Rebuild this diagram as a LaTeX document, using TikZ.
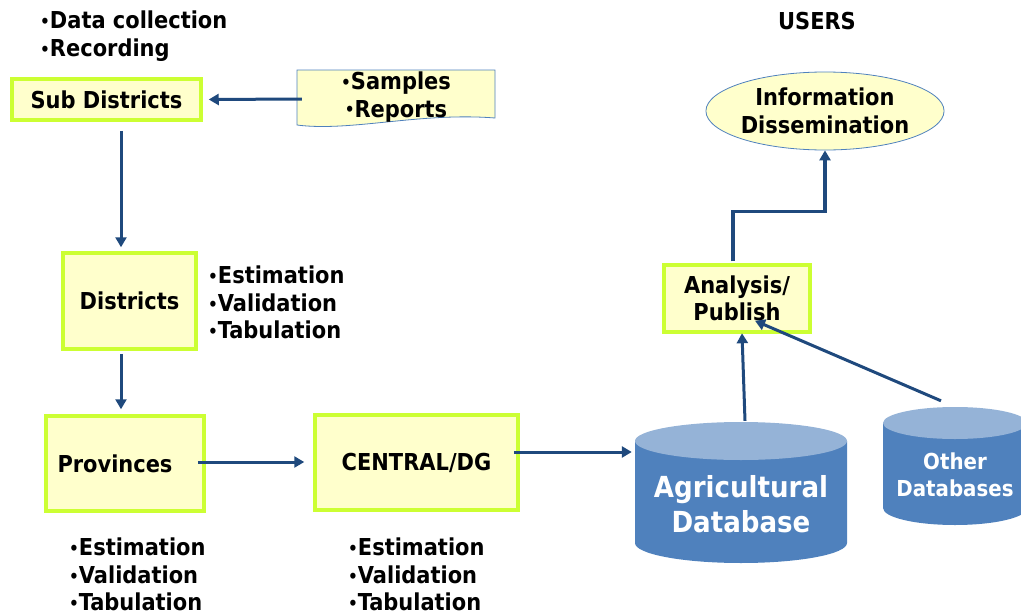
\documentclass[tikz,border=0pt]{standalone}
\usepackage{fontspec}
\setmainfont{DejaVu Sans Condensed}
\usetikzlibrary{arrows.meta,calc,shapes.geometric}
\definecolor{boxfill}{RGB}{255,255,204}
\definecolor{boxline}{RGB}{204,255,51}
\definecolor{arrowc}{RGB}{31,73,125}
\definecolor{dbbody}{RGB}{79,129,189}
\definecolor{dbtop}{RGB}{149,179,215}
\definecolor{thinblue}{RGB}{79,129,189}
\newcommand\bul{{\fontsize{17}{17}\selectfont\raisebox{1.2pt}{•}}}
\begin{document}
\begin{tikzpicture}[x=1pt,y=-1pt,
  every node/.style={font=\bfseries\fontsize{23.3}{27.5}\selectfont, inner sep=0pt},
  greenbox/.style={draw=boxline, fill=boxfill, line width=3.5pt, align=center},
  arr/.style={draw=arrowc, line width=3pt, -{Triangle[length=10pt,width=11pt]}},
  conn/.style={draw=arrowc, line width=3.5pt},
  bullets/.style={align=left, anchor=north west},
  dbtext/.style={text=white, align=center}]
\useasboundingbox (0,0) rectangle (1021,616);

% top left notes
\node[bullets] (note1) at (40,11) {\bul Data collection\\\bul Recording};

% USERS
\node (users) at (817,21) {USERS};

% boxes
\node[greenbox, minimum width=189, minimum height=41] (sub) at (106.5,99.5) {Sub Districts};
\node[greenbox, minimum width=133, minimum height=96] (dist) at (129.5,301) {Districts};
\node[greenbox, minimum width=158, minimum height=95] (prov) at (125,463.5) {Provinces\hspace*{20pt}};
\node[greenbox, minimum width=203, minimum height=95] (central) at (416.5,462.5) {CENTRAL/DG};
\node[greenbox, minimum width=146, minimum height=67] (ana) at (737,298.5) {Analysis/\\Publish};

% bullet lists
\node[bullets] (distnote) at (208,266) {\bul Estimation\\\bul Validation\\\bul Tabulation};
\node[bullets] (provnote) at (69,538) {\bul Estimation\\\bul Validation\\\bul Tabulation};
\node[bullets] (centnote) at (348,538) {\bul Estimation\\\bul Validation\\\bul Tabulation};

% document shape
\draw[thinblue, fill=boxfill, line width=0.8pt]
  (297,70) -- (495,70) -- (495,118)
  .. controls (420,112) and (350,132) .. (297,125) -- cycle;
\node[align=center, minimum width=198, minimum height=55] (doc) at (396,97) {\bul Samples\\\bul Reports};

% ellipse
\node[ellipse, draw=thinblue, fill=boxfill, line width=0.8pt, minimum width=216, minimum height=78, align=center] (info) at (825,111) {Information\\Dissemination};

% Agricultural database cylinder
\fill[dbbody] (635,441) -- (635,543) arc[start angle=180, end angle=0, x radius=106, y radius=20] -- (847,441) -- cycle;
\fill[dbtop] (741,441) ellipse[x radius=106, y radius=19];
\node[dbtext, font=\bfseries\fontsize{29}{35}\selectfont, minimum width=212, minimum height=142] (agri) at (741,492) {\\[12pt]Agricultural\\Database};

% Other databases cylinder
\fill[dbbody] (883,423) -- (883,508) arc[start angle=180, end angle=0, x radius=72, y radius=17] -- (1027,423) -- cycle;
\fill[dbtop] (955,423) ellipse[x radius=72, y radius=16];
\node[dbtext, font=\bfseries\fontsize{22}{27}\selectfont, minimum width=144, minimum height=118] (other) at (955,466) {\\[7pt]Other\\Databases};

% connectors
\draw[arr] ($(doc.west)+(5,2)$) -- ($(sub.east)+(6,0)$);
\draw[arr] ($(sub.south)+(14.5,9)$) -- ($(dist.north)+(-8.5,-4)$);
\draw[arr] ($(dist.south)+(-8.5,3)$) -- ($(prov.north)+(-4,-5)$);
\draw[arr] ($(prov.east)+(-8,-1.5)$) -- ($(central.west)+(-9,-0.5)$);
\draw[arr] ($(central.east)+(-6,-10.5)$) -- ($(agri.west)+(-3,-40)$);
\draw[arr] ($(agri.north)+(4,0)$) -- ($(ana.south)+(5,-0.5)$);
\draw[arr] ($(other.north)+(-14,-6)$) -- ($(ana.south)+(18,-13)$);
\draw[conn, -{Triangle[length=10pt,width=11pt]}] ($(ana.north)+(-4,-2)$) -- ++(0,-50) -| (info.south);
\end{tikzpicture}
\end{document}
